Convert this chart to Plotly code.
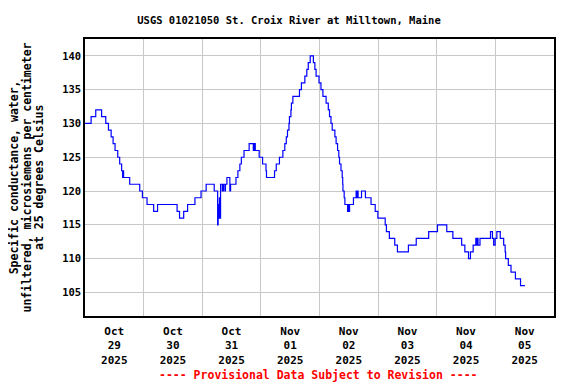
import pandas as pd
import plotly.graph_objects as go

# Hours since 2025-10-29 00:00 at which the reading changes, and the new reading
hours = [0, 2.5, 4.4, 6.8, 8.5, 9.6, 10.7, 11.5, 12.3, 13.4, 14.2, 15.0, 15.4, 15.6, 15.8,
         18.3, 22.4, 23.5, 25.4, 28.1, 29.7, 37.7, 38.7, 40.4, 42.0, 45.0, 47.5, 49.6, 52.9,
         54.3, 54.5, 54.8, 55.0, 55.25, 55.5, 56.2, 56.7, 57.3, 57.5, 58.1, 59.3, 59.6,
         61.8, 62.6, 63.4, 64.0, 65.1, 67.2, 68.9, 69.2, 69.7, 71.3, 72.7, 74.1, 74.3,
         77.6, 78.3, 79.6, 81.0, 81.8, 82.4, 82.9, 83.5, 83.7, 84.3, 84.5, 85.1, 87.8,
         88.6, 90.0, 90.8, 91.4, 92.2, 93.5, 94.1, 94.6, 95.8, 96.6, 97.4, 98.7, 99.6,
         100.1, 100.7, 101.2, 102.3, 102.8, 103.4, 103.9, 104.2, 104.8, 105.3, 105.5,
         105.6, 106.1, 106.4, 107.5, 107.7, 107.9, 108.3, 109.9, 111.0, 111.3, 111.5,
         111.8, 113.2, 114.8, 117.1, 118.8, 119.9, 122.9, 123.4, 124.6, 126.8, 127.9,
         132.4, 135.6, 140.7, 144.3, 148.1, 150.6, 154.2, 155.5, 157.0, 157.8, 158.9,
         160.0, 160.3, 160.7, 160.9, 161.7, 166.0, 166.8, 167.3, 167.9, 168.6, 170.0,
         171.4, 172.0, 172.2, 173.3, 174.4, 176.2, 178.3, 180.1]
conductance = [130, 131, 132, 131, 130, 129, 128, 127, 126, 125, 124, 123, 122, 123, 122,
               121, 120, 119, 118, 117, 118, 117, 116, 117, 118, 119, 120, 121, 120,
               115, 118, 116, 119, 116, 121, 120, 121, 120, 121, 122, 120, 121,
               122, 123, 124, 125, 126, 127, 126, 127, 126, 125, 124, 123, 122,
               123, 124, 125, 126, 127, 128, 129, 130, 131, 132, 133, 134, 135,
               136, 137, 138, 139, 140, 139, 138, 137, 136, 135, 134, 133, 132,
               131, 130, 129, 128, 127, 126, 125, 124, 123, 122, 121,
               120, 119, 118, 117, 118, 117, 118, 119, 120, 119, 120,
               119, 120, 119, 118, 117, 116, 115, 114, 113, 112, 111,
               112, 113, 114, 115, 114, 113, 112, 111, 110, 111, 112,
               113, 112, 113, 112, 113, 114, 113, 112, 113, 114, 113,
               112, 111, 110, 109, 108, 107, 106, 106]

start = pd.Timestamp("2025-10-29 00:00")
times = [start + pd.Timedelta(hours=h) for h in hours]

day_labels = ["Oct<br>29<br>2025", "Oct<br>30<br>2025", "Oct<br>31<br>2025", "Nov<br>01<br>2025",
              "Nov<br>02<br>2025", "Nov<br>03<br>2025", "Nov<br>04<br>2025", "Nov<br>05<br>2025"]
day_noons = pd.date_range("2025-10-29 12:00", periods=8, freq="D")
y_ticks = [105, 110, 115, 120, 125, 130, 135, 140]
y_title_lines = ["Specific conductance, water,",
                 "unfiltered, microsiemens per centimeter",
                 "at 25 degrees Celsius"]

FONT = "DejaVu Sans Mono"

fig = go.Figure()
fig.add_trace(go.Scatter(x=times, y=conductance, mode="lines", line_shape="hv",
                         line=dict(color="#0000ff", width=1.2), showlegend=False,
                         hoverinfo="skip"))

annotations = []
for line_text, xpos in zip(y_title_lines, [-0.1517, -0.1257, -0.0993]):
    annotations.append(dict(text=line_text, xref="paper", yref="paper", x=xpos, y=0.5,
                            xanchor="center", yanchor="middle", textangle=-90, showarrow=False,
                            font=dict(family=FONT, size=11.5, color="black", weight="bold")))
annotations.append(dict(text="---- Provisional Data Subject to Revision ----",
                        xref="paper", yref="paper", x=0.498, y=-0.213,
                        xanchor="center", yanchor="middle", showarrow=False,
                        font=dict(family=FONT, size=11.5, color="#ff0000", weight="bold")))

# page body has an 8px margin, so the figure is sized to fit the 576x384 window
fig.update_layout(
    width=568, height=376,
    margin=dict(l=77, r=22, t=31, b=68),
    paper_bgcolor="white", plot_bgcolor="white",
    title=dict(text="USGS 01021050 St. Croix River at Milltown, Maine",
               x=0.4947, xanchor="center", y=0.968, yanchor="middle",
               font=dict(family=FONT, size=10.5, color="black", weight="bold")),
    xaxis=dict(range=["2025-10-29 00:00", "2025-11-06 00:00"],
               tickmode="array", tickvals=list(day_noons), ticktext=day_labels,
               showgrid=False, ticks="", zeroline=False, ticklabelstandoff=4,
               tickfont=dict(family=FONT, size=11, color="black", weight="bold"),
               minor=dict(tick0="2025-10-29", dtick=86400000, showgrid=True,
                          gridcolor="#c8c8c8", gridwidth=1),
               showline=True, linecolor="black", linewidth=1.5, mirror=True),
    yaxis=dict(range=[101.5, 142.5], tickvals=y_ticks,
               showgrid=True, gridcolor="#c8c8c8", gridwidth=1, ticks="", zeroline=False,
               tickfont=dict(family=FONT, size=10.5, color="black", weight="bold"),
               showline=True, linecolor="black", linewidth=1.5, mirror=True),
    annotations=annotations,
)

fig.write_html("out.html")
